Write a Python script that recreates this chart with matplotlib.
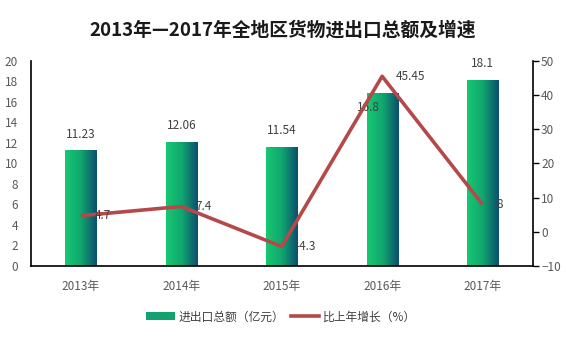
import numpy as np
import matplotlib
matplotlib.use('Agg')
from matplotlib import pyplot as plt
from matplotlib.colors import LinearSegmentedColormap
from matplotlib.patches import Patch
from matplotlib.lines import Line2D

plt.rcParams['font.family'] = ['Noto Sans CJK SC', 'DejaVu Sans']

years = ['2013年', '2014年', '2015年', '2016年', '2017年']
total = [11.23, 12.06, 11.54, 16.8, 18.1]      # 亿元
growth = [4.7, 7.4, -4.3, 45.45, 8]             # %

TICK_GREY = '#595959'
LINE_RED = '#b5494a'
BAR_W = 0.31

grad = LinearSegmentedColormap.from_list('bar', ['#17c872', '#10a66f', '#0c4f6e'])

fig = plt.figure(figsize=(5.66, 3.4), dpi=100)
ax = fig.add_axes([0.0542, 0.2176, 0.887, 0.6039])
ax2 = ax.twinx()

x = np.arange(len(years))
g = np.linspace(0, 1, 64).reshape(1, -1)
for xi, v in zip(x, total):
    ax.imshow(g, cmap=grad, aspect='auto', interpolation='bilinear',
              extent=(xi - BAR_W / 2, xi + BAR_W / 2, 0, v), zorder=2)

ax.set_xlim(-0.5, len(years) - 0.5)
ax.set_ylim(0, 20)
ax.set_yticks(np.arange(0, 21, 2))
ax.set_xticks(x)
ax.set_xticklabels(years)

# value labels above bars (2016 one sits just inside the bar top)
bar_lab_dx = [0, 0, 0, -10, 0]
bar_lab_dy = [12, 12, 12, -10, 12]
for xi, v, dx, dy in zip(x, total, bar_lab_dx, bar_lab_dy):
    ax.annotate('{:g}'.format(v), (xi, v), xytext=(dx, dy), textcoords='offset points',
                ha='center', va='center', fontsize=8.5, color='#404040', zorder=5)

ax2.plot(x, growth, color=LINE_RED, lw=2.6, zorder=3, solid_capstyle='butt')
ax2.set_ylim(-10, 50)
ax2.set_yticks(np.arange(-10, 51, 10))
for xi, v in zip(x, growth):
    ax2.annotate('{:g}'.format(v), (xi, v), xytext=(10, 0), textcoords='offset points',
                 ha='left', va='center', fontsize=8.5, color='#404040', zorder=5)

for a in (ax, ax2):
    a.spines['top'].set_visible(False)
ax.spines['right'].set_visible(False)
ax2.spines['left'].set_visible(False)
ax2.spines['bottom'].set_visible(False)
ax.spines['left'].set_linewidth(1.2)
ax.spines['bottom'].set_linewidth(1.2)
ax2.spines['right'].set_linewidth(1.2)

ax.tick_params(axis='y', length=0, pad=9, labelsize=8.5, labelcolor=TICK_GREY)
ax.tick_params(axis='x', length=0, pad=10, labelsize=8.5, labelcolor=TICK_GREY)
ax2.tick_params(axis='y', length=4, width=1, pad=2, labelsize=8.5, labelcolor=TICK_GREY)

fig.text(0.5, 0.912, '2013年—2017年全地区货物进出口总额及增速', ha='center', va='center',
         fontsize=13.5, fontweight='bold', color='#1a1a1a')

handles = [Patch(facecolor='#12a16f', edgecolor='none'),
           Line2D([], [], color=LINE_RED, lw=2.6)]
fig.legend(handles, ['进出口总额（亿元）', '比上年增长（%）'], loc='center',
           bbox_to_anchor=(0.497, 0.068), ncol=2, frameon=False, fontsize=8.5,
           handlelength=2.4, handletextpad=0.3, columnspacing=0.6, labelcolor='#404040')

fig.savefig('out.png', dpi=100)
